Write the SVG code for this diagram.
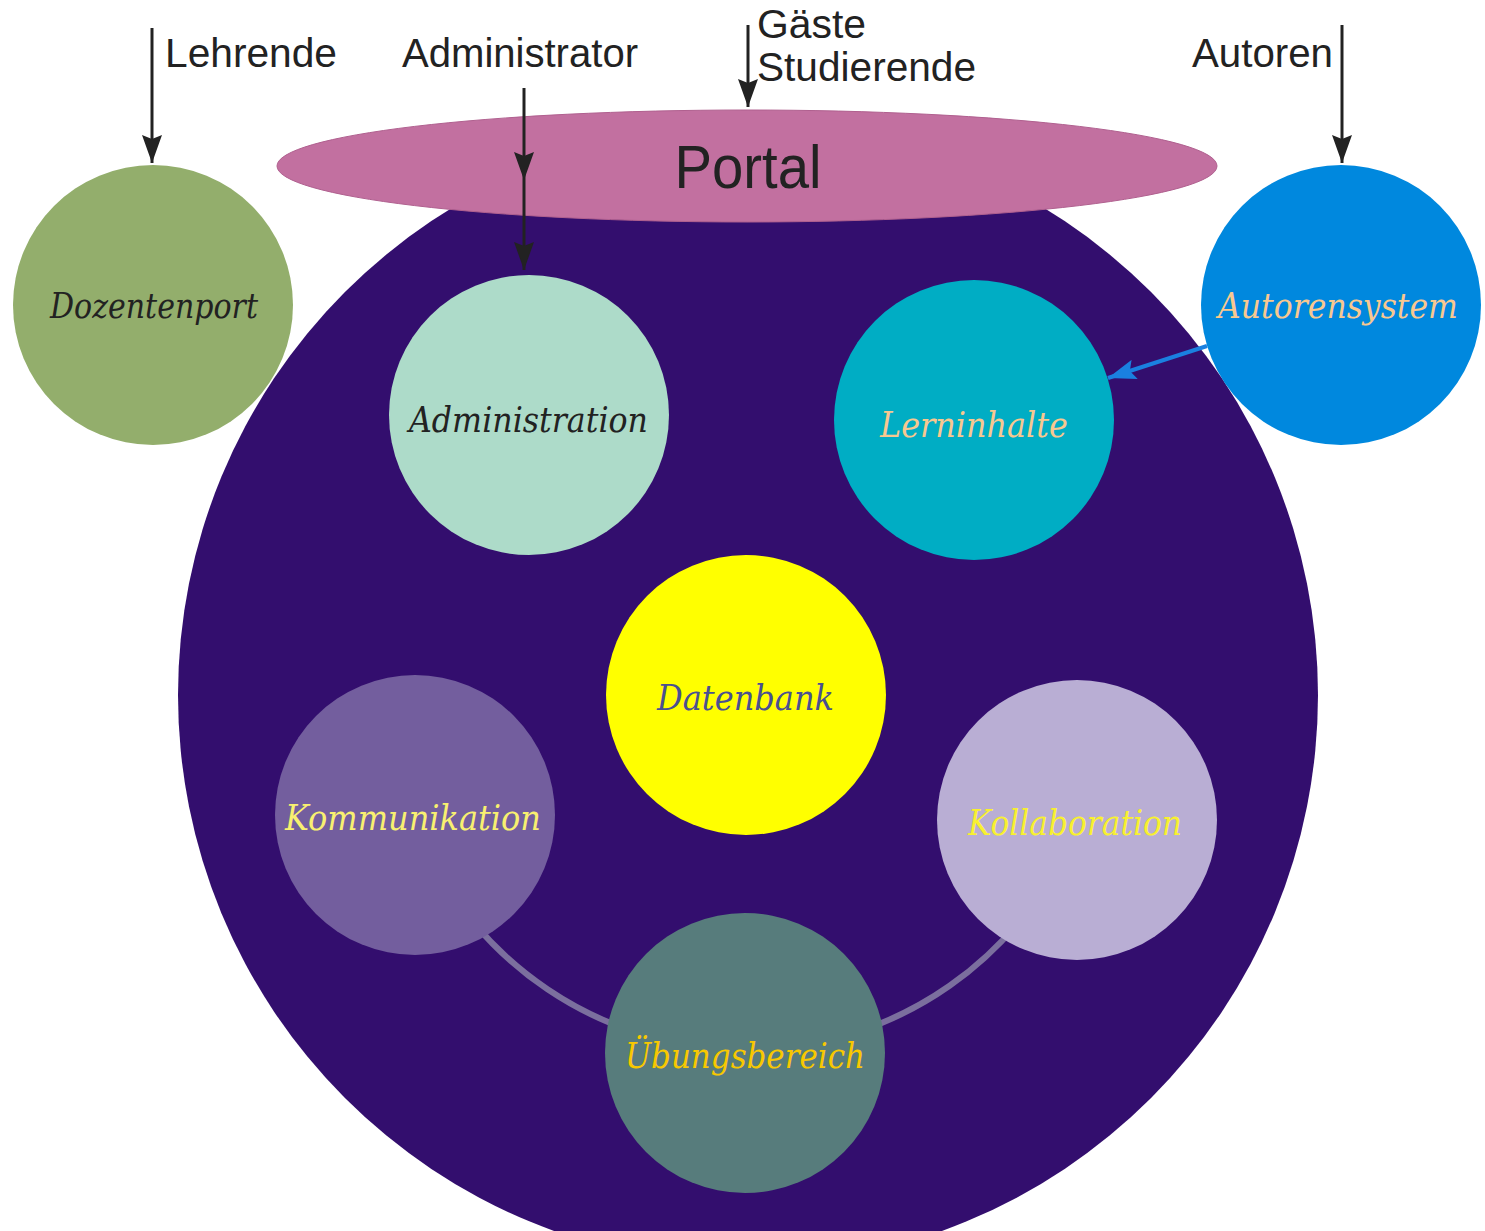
<svg xmlns="http://www.w3.org/2000/svg" width="1485" height="1231" viewBox="0 0 1485 1231">
<defs>
<style>
.lbl{font-family:"Liberation Sans","DejaVu Sans",sans-serif;font-size:40px;fill:#222;}
.node{font-family:"DejaVu Serif","Liberation Serif",serif;font-size:36px;font-style:italic;}
.blk{stroke:#222;stroke-width:3;fill:none;}
.arc{stroke:#7b6f9e;stroke-width:6;fill:none;}
</style>
<marker id="ah" viewBox="0 0 28 20" refX="28" refY="10" markerWidth="28" markerHeight="20" markerUnits="userSpaceOnUse" orient="auto">
<path d="M0,0 L28,10 L0,20 L4,10 Z" fill="#222"/>
</marker>
<marker id="bh" viewBox="0 0 28 20" refX="28" refY="10" markerWidth="28" markerHeight="20" markerUnits="userSpaceOnUse" orient="auto">
<path d="M0,0 L28,10 L0,20 L5,10 Z" fill="#1a80e0"/>
</marker>
</defs>
<rect width="1485" height="1231" fill="#ffffff"/>
<g id="system">
<circle cx="748" cy="695" r="570" fill="#330e6e"/>
</g>
<g id="portal">
<ellipse cx="747" cy="166" rx="470" ry="56" fill="#c270a0" stroke="#b0608f" stroke-width="1"/>
<text x="748" y="188" text-anchor="middle" style="font-family:'Liberation Sans','DejaVu Sans',sans-serif;font-size:62px;fill:#222" textLength="147" lengthAdjust="spacingAndGlyphs">Portal</text>
</g>
<g id="connectors">
<path class="arc" d="M474.1 923.2 A355 355 0 0 0 636.3 1032.6"/>
<path class="arc" d="M855.7 1032.6 A355 355 0 0 0 1025.7 913.6"/>
<line class="blk" x1="152" y1="28" x2="152" y2="163" marker-end="url(#ah)"/>
<line class="blk" x1="748" y1="25" x2="748" y2="107" marker-end="url(#ah)"/>
<line class="blk" x1="1342" y1="25" x2="1342" y2="163" marker-end="url(#ah)"/>
<path class="blk" d="M524 88 L524 180 L524 270" marker-mid="url(#ah)" marker-end="url(#ah)"/>
<line x1="1207" y1="346" x2="1108" y2="378" stroke="#1a80e0" stroke-width="4" marker-end="url(#bh)"/>
</g>
<g id="labels">
<text class="lbl" x="165" y="67" textLength="172" lengthAdjust="spacingAndGlyphs">Lehrende</text>
<text class="lbl" x="402" y="67" textLength="236" lengthAdjust="spacingAndGlyphs">Administrator</text>
<text class="lbl" x="757" y="38" textLength="109" lengthAdjust="spacingAndGlyphs">Gäste</text>
<text class="lbl" x="757" y="81" textLength="219" lengthAdjust="spacingAndGlyphs">Studierende</text>
<text class="lbl" x="1192" y="67" textLength="141" lengthAdjust="spacingAndGlyphs">Autoren</text>
</g>
<g id="dozentenport">
<circle cx="153" cy="305" r="140" fill="#93ae6c"/>
<text class="node" x="50" y="318" fill="#222" textLength="208" lengthAdjust="spacingAndGlyphs">Dozentenport</text>
</g>
<g id="administration">
<circle cx="529" cy="415" r="140" fill="#addbc9"/>
<text class="node" x="409" y="432" fill="#222" textLength="239" lengthAdjust="spacingAndGlyphs">Administration</text>
</g>
<g id="lerninhalte">
<circle cx="974" cy="420" r="140" fill="#00adc4"/>
<text class="node" x="880" y="437" fill="#f8c890" textLength="188" lengthAdjust="spacingAndGlyphs">Lerninhalte</text>
</g>
<g id="autorensystem">
<circle cx="1341" cy="305" r="140" fill="#0088de"/>
<text class="node" x="1218" y="318" fill="#f8c890" textLength="240" lengthAdjust="spacingAndGlyphs">Autorensystem</text>
</g>
<g id="datenbank">
<circle cx="746" cy="695" r="140" fill="#ffff00"/>
<text class="node" x="657" y="710" fill="#4a5090" textLength="177" lengthAdjust="spacingAndGlyphs">Datenbank</text>
</g>
<g id="kommunikation">
<circle cx="415" cy="815" r="140" fill="#735e9e"/>
<text class="node" x="285" y="830" fill="#f8f070" textLength="256" lengthAdjust="spacingAndGlyphs">Kommunikation</text>
</g>
<g id="kollaboration">
<circle cx="1077" cy="820" r="140" fill="#b9aed4"/>
<text class="node" x="968" y="835" fill="#f8f030" textLength="214" lengthAdjust="spacingAndGlyphs">Kollaboration</text>
</g>
<g id="uebungsbereich">
<circle cx="745" cy="1053" r="140" fill="#577c7c"/>
<text class="node" x="625" y="1068" fill="#f8c800" textLength="240" lengthAdjust="spacingAndGlyphs">Übungsbereich</text>
</g>
</svg>
